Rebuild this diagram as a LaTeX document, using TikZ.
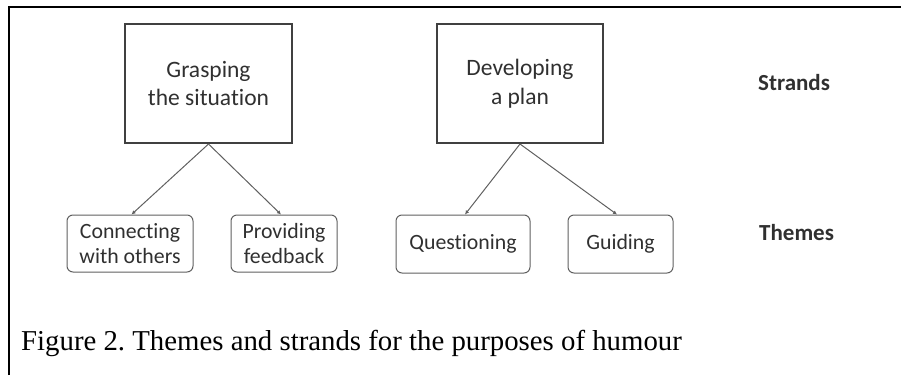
\documentclass[tikz,border=0pt]{standalone}
\usepackage{fontspec}
\setmainfont{Liberation Serif}
\newfontfamily\calib[Ligatures=NoCommon,RawFeature={-liga;-clig;-dlig}]{Carlito}
\usetikzlibrary{arrows.meta}
\definecolor{boxline}{HTML}{404040}
\definecolor{thline}{HTML}{606060}
\definecolor{txt}{HTML}{303030}
\tikzset{
  strandbox/.style={draw=boxline, line width=2pt, inner sep=0pt, align=center,
    font=\calib\fontsize{23.5}{28.7}\selectfont, text=txt},
  themebox/.style={draw=thline, line width=1pt, rounded corners=6pt, inner sep=0pt,
    align=center, font=\calib\fontsize{21.8}{25.5}\selectfont, text=txt},
  conn/.style={draw=thline, line width=1pt, -{Latex[length=4pt,width=4pt]}},
  sidelabel/.style={font=\calib\bfseries\fontsize{23}{26}\selectfont, text=txt, inner sep=0pt, anchor=west}
}
\frenchspacing
\begin{document}
\begin{tikzpicture}[x=1pt,y=1pt]
\useasboundingbox (0,0) rectangle (901,-375);
% frame
\draw[line width=2.4pt] (9,-375) -- (9,-7) -- (901,-7);
% strands
\node[strandbox, minimum width=167pt, minimum height=119pt] (grasp) at (208.5,-83.5) {Grasping\\the situation};
\node[strandbox, minimum width=166pt, minimum height=119pt] (plan) at (520,-83.5) {Developing\\a plan};
% themes
\node[themebox, minimum width=126pt, minimum height=57pt] (connect) at (130,-243.5) {Connecting\\with others};
\node[themebox, minimum width=106pt, minimum height=57pt] (feedback) at (284,-243.5) {Providing\\feedback};
\node[themebox, minimum width=134pt, minimum height=58pt] (question) at (463,-244) {Questioning};
\node[themebox, minimum width=105pt, minimum height=58pt] (guide) at (620.5,-244) {Guiding};
% connectors
\draw[conn] (grasp.south) -- ([xshift=1.5pt]connect.north);
\draw[conn] (grasp.south) -- ([xshift=-3pt]feedback.north);
\draw[conn] (plan.south) -- ([xshift=2pt]question.north);
\draw[conn] (plan.south) -- ([xshift=-3.5pt]guide.north);
% side labels
\node[sidelabel] (strands) at (758,-83) {Strands};
\node[sidelabel] (themes) at (759,-233) {Themes};
% caption
\node[anchor=base west, inner sep=0pt, font=\fontsize{28.8}{32}\selectfont] (caption) at (21,-350) {Figure 2. Themes and strands for the purposes of humour};
\end{tikzpicture}
\end{document}
